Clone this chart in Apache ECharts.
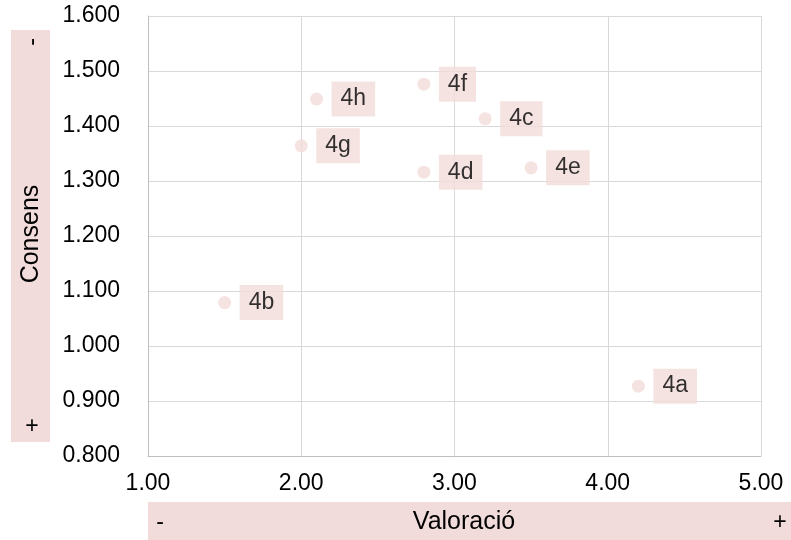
<!DOCTYPE html>
<html>
<head>
<meta charset="utf-8">
<script src="https://cdn.jsdelivr.net/npm/echarts@6/dist/echarts.min.js"></script>
<style>html,body{margin:0;padding:0;background:#fff}#c{width:791px;height:540px}</style>
</head>
<body>
<div id="c"></div>
<script>
const pointLabels = ['4a','4b','4c','4d','4e','4f','4g','4h'];
const valoracio   = [4.2, 1.5, 3.2, 2.8, 3.5, 2.8, 2.0, 2.1];
const consens     = [0.927, 1.079, 1.413, 1.316, 1.324, 1.476, 1.364, 1.449];
const xAxisName = 'Valoració';
const yAxisName = 'Consens';

const PINK = '#f2dcdb';
const FONT = 'Liberation Sans, Arial, sans-serif';

const chart = echarts.init(document.getElementById('c'), null, {renderer: 'canvas'});
chart.setOption({
  animation: false,
  backgroundColor: '#fff',
  grid: {left: 148, right: 30, top: 16, bottom: 84, containLabel: false},
  xAxis: {
    type: 'value', min: 1, max: 5, interval: 1,
    axisLine: {show: true, lineStyle: {color: '#bfbfbf', width: 1}},
    axisTick: {show: false},
    splitLine: {show: true, lineStyle: {color: '#d9d9d9', width: 1}},
    axisLabel: {color: '#000', fontFamily: FONT, fontSize: 23, margin: 16,
      formatter: v => v.toFixed(2)}
  },
  yAxis: {
    type: 'value', min: 0.8, max: 1.6, interval: 0.1,
    axisLine: {show: true, lineStyle: {color: '#bfbfbf', width: 1}},
    axisTick: {show: false},
    splitLine: {show: true, lineStyle: {color: '#d9d9d9', width: 1}},
    axisLabel: {color: '#000', fontFamily: FONT, fontSize: 23, margin: 28,
      formatter: v => v.toFixed(3)}
  },
  series: [{
    type: 'scatter',
    symbol: 'circle',
    symbolSize: 13,
    itemStyle: {color: PINK},
    data: valoracio.map((x, i) => ({value: [x, consens[i]], name: pointLabels[i]})),
    label: {
      show: true, position: 'right', distance: 8.5,
      formatter: p => p.name,
      color: '#000', fontFamily: FONT, fontSize: 23, lineHeight: 23,
      backgroundColor: PINK, padding: [6, 9, 6, 9]
    }
  }],
  graphic: [
    {type: 'rect', shape: {x: 11, y: 30, width: 39, height: 412}, style: {fill: PINK}, z: 0},
    {type: 'text', x: 33, y: 42, rotation: Math.PI / 2,
      style: {text: '-', fill: '#000', font: '23px ' + FONT, align: 'center', verticalAlign: 'middle'}},
    {type: 'text', x: 32, y: 427,
      style: {text: '+', fill: '#000', font: '23px ' + FONT, align: 'center', verticalAlign: 'middle'}},
    {type: 'text', x: 31, y: 234, rotation: Math.PI / 2,
      style: {text: yAxisName, fill: '#000', font: '25px ' + FONT, align: 'center', verticalAlign: 'middle'}},
    {type: 'rect', shape: {x: 148, y: 502, width: 643, height: 40}, style: {fill: PINK}, z: 0},
    {type: 'text', x: 160, y: 523,
      style: {text: '-', fill: '#000', font: '23px ' + FONT, align: 'center', verticalAlign: 'middle'}},
    {type: 'text', x: 780, y: 523,
      style: {text: '+', fill: '#000', font: '23px ' + FONT, align: 'center', verticalAlign: 'middle'}},
    {type: 'text', x: 464, y: 522,
      style: {text: xAxisName, fill: '#000', font: '25px ' + FONT, align: 'center', verticalAlign: 'middle'}}
  ]
});
</script>
</body>
</html>
